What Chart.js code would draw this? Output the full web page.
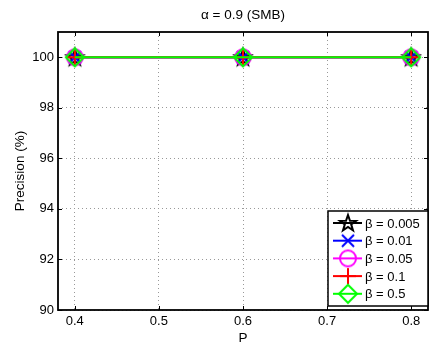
<!DOCTYPE html>
<html><head><meta charset="utf-8">
<script src="https://cdn.jsdelivr.net/npm/chart.js@4/dist/chart.umd.min.js"></script>
<style>html,body{margin:0;padding:0;background:#fff}canvas{display:block}</style>
</head><body>
<canvas id="c" width="439" height="346"></canvas>
<script>
const pValues = [0.4, 0.6, 0.8];
const seriesLabels = ['β = 0.005', 'β = 0.01', 'β = 0.05', 'β = 0.1', 'β = 0.5'];
const beta0005 = [100, 100, 100];
const beta001 = [100, 100, 100];
const beta005 = [100, 100, 100];
const beta01 = [100, 100, 100];
const beta05 = [100, 100, 100];
const xTicks = [0.4, 0.5, 0.6, 0.7, 0.8];
const yTicks = [90, 92, 94, 96, 98, 100];
const seriesColors = ['#000000', '#0000ff', '#ff00ff', '#ff0000', '#00ff00'];
const seriesMarkers = ['star', 'x', 'circle', 'plus', 'diamond'];
const FONT = '"Liberation Sans", Arial, sans-serif';

function makeMarker(type, color) {
  const s = 22, c = document.createElement('canvas');
  c.width = s; c.height = s;
  const g = c.getContext('2d');
  const m = s / 2;
  g.strokeStyle = color; g.lineWidth = 2; g.lineJoin = 'miter';
  g.beginPath();
  if (type === 'star') {
    const R = 8.5, r = R * 0.40;
    for (let i = 0; i < 10; i++) {
      const rad = i % 2 === 0 ? R : r;
      const a = -Math.PI / 2 + i * Math.PI / 5;
      const x = m + rad * Math.cos(a), y = m + 0.5 + rad * Math.sin(a);
      if (i === 0) g.moveTo(x, y); else g.lineTo(x, y);
    }
    g.closePath();
  } else if (type === 'x') {
    const d = 6;
    g.moveTo(m - d, m - d); g.lineTo(m + d, m + d);
    g.moveTo(m + d, m - d); g.lineTo(m - d, m + d);
  } else if (type === 'circle') {
    g.arc(m, m, 8, 0, Math.PI * 2);
  } else if (type === 'plus') {
    const d = 8;
    g.moveTo(m - d, m); g.lineTo(m + d, m);
    g.moveTo(m, m - d); g.lineTo(m, m + d);
  } else if (type === 'diamond') {
    const d = 9;
    g.moveTo(m, m - d); g.lineTo(m + d, m); g.lineTo(m, m + d); g.lineTo(m - d, m); g.closePath();
  }
  g.stroke();
  return c;
}
const markerImgs = seriesMarkers.map((t, i) => makeMarker(t, seriesColors[i]));
const allSeries = [beta0005, beta001, beta005, beta01, beta05];

const datasets = allSeries.map((vals, i) => ({
  label: seriesLabels[i],
  data: vals.map((v, j) => ({ x: pValues[j], y: v })),
  borderColor: seriesColors[i],
  backgroundColor: seriesColors[i],
  borderWidth: 2,
  pointStyle: markerImgs[i],
  pointRadius: 9,
  pointHoverRadius: 9,
  order: 5 - i
}));

const framePlugin = {
  id: 'frame',
  afterDraw(chart) {
    const { ctx, chartArea: a, scales } = chart;
    ctx.save();
    ctx.strokeStyle = '#000'; ctx.lineWidth = 1;
    // inward ticks
    const tl = 4;
    ctx.beginPath();
    xTicks.forEach(t => {
      const x = Math.round(scales.x.getPixelForValue(t)) + 0.5;
      ctx.moveTo(x, a.bottom); ctx.lineTo(x, a.bottom - tl);
      ctx.moveTo(x, a.top); ctx.lineTo(x, a.top + tl);
    });
    yTicks.forEach(t => {
      const y = Math.round(scales.y.getPixelForValue(t)) + 0.5;
      ctx.moveTo(a.left, y); ctx.lineTo(a.left + tl, y);
      ctx.moveTo(a.right, y); ctx.lineTo(a.right - tl, y);
    });
    ctx.stroke();
    // frame
    ctx.lineWidth = 1.8;
    ctx.strokeRect(a.left, a.top, a.right - a.left, a.bottom - a.top);
    // title
    ctx.fillStyle = '#000';
    ctx.font = '13.5px ' + FONT;
    ctx.textAlign = 'center'; ctx.textBaseline = 'middle';
    ctx.fillText('α = 0.9 (SMB)', (a.left + a.right) / 2, 15);
    // legend
    const lx = 328, ly = 211, lw = 100, lh = 95;
    ctx.fillStyle = '#fff';
    ctx.fillRect(lx, ly, lw, lh);
    ctx.strokeStyle = '#000'; ctx.lineWidth = 1.5;
    ctx.strokeRect(lx, ly, lw, lh);
    ctx.font = '13px ' + FONT;
    ctx.textAlign = 'left';
    seriesLabels.forEach((lab, i) => {
      const y = 223 + i * 17.7;
      ctx.strokeStyle = seriesColors[i]; ctx.lineWidth = 2;
      ctx.beginPath(); ctx.moveTo(333, y); ctx.lineTo(362, y); ctx.stroke();
      ctx.drawImage(markerImgs[i], 348 - 11, y - 11);
      ctx.fillStyle = '#000';
      ctx.fillText(lab, 365, y + 1);
    });
    ctx.restore();
  }
};

new Chart(document.getElementById('c'), {
  type: 'line',
  data: { datasets },
  options: {
    responsive: false,
    animation: false,
    events: [],
    layout: { padding: { left: 0, right: 10, top: 32, bottom: 0 } },
    plugins: { legend: { display: false }, tooltip: { enabled: false }, title: { display: false } },
    scales: {
      x: {
        type: 'linear', min: 0.38, max: 0.82,
        afterBuildTicks: s => { s.ticks = xTicks.map(v => ({ value: v })); },
        afterFit: s => { s.height = 36; },
        ticks: { color: '#000', font: { family: FONT, size: 13 }, padding: 4, maxRotation: 0,
          callback: v => v.toFixed(1) },
        grid: { color: '#999', drawTicks: false, lineWidth: 1 },
        border: { display: false, dash: [1, 3] },
        title: { display: true, text: 'P', color: '#000', font: { family: FONT, size: 13.5 }, padding: { top: 0, bottom: 0 } }
      },
      y: {
        type: 'linear', min: 90, max: 101,
        afterBuildTicks: s => { s.ticks = yTicks.map(v => ({ value: v })); },
        afterFit: s => { s.width = 58; },
        ticks: { color: '#000', font: { family: FONT, size: 13 }, padding: 4 },
        grid: { color: '#999', drawTicks: false, lineWidth: 1 },
        border: { display: false, dash: [1, 3] },
        title: { display: true, text: 'Precision (%)', color: '#000', font: { family: FONT, size: 13.5 }, padding: { top: 12, bottom: 0 } }
      }
    }
  },
  plugins: [framePlugin]
});
</script>
</body></html>
